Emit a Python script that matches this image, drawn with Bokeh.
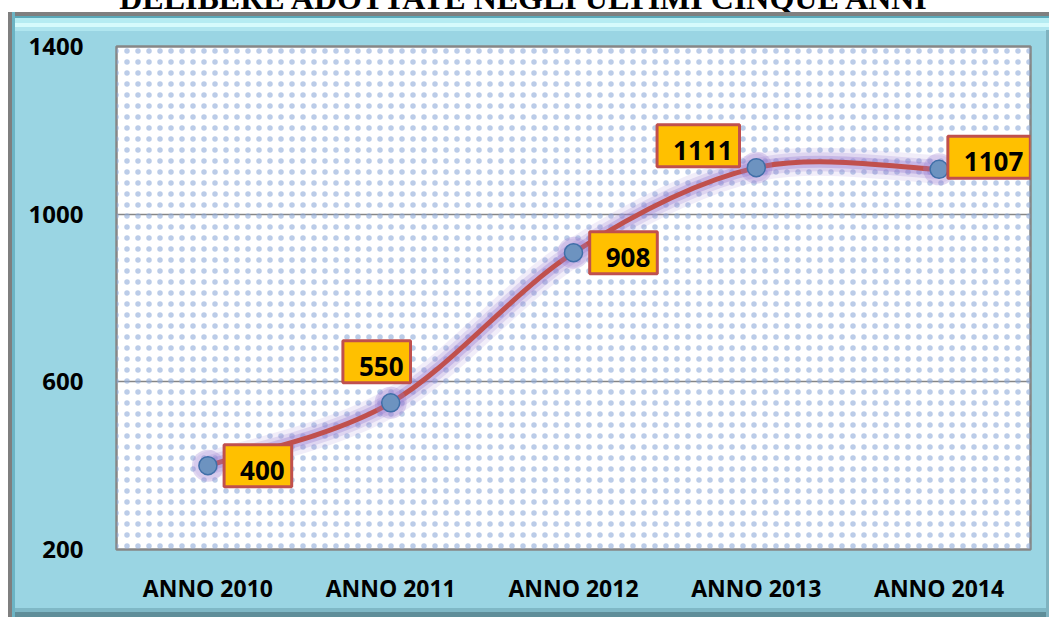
from bokeh.plotting import figure
from bokeh.models import BoxAnnotation, Label, FixedTicker, Range1d, Div
from bokeh.layouts import column
from bokeh.embed import file_html
from bokeh.resources import INLINE

# ---- data ----
years = ["ANNO 2010", "ANNO 2011", "ANNO 2012", "ANNO 2013", "ANNO 2014"]
values = [400, 550, 908, 1111, 1107]
y_ticks = [200, 600, 1000, 1400]
title_text = "DELIBERE ADOTTATE NEGLI ULTIMI CINQUE ANNI"

# ---- styles / positions ----
label_offsets = [(50, 0), (-14, 41), (50, 0), (-58, 22), (50, 12)]
BLUE_BG = "#9ad5e3"
LINE_RED = "#c0504d"
GLOW = "#9b7fd1"
W, H_TOTAL, TITLE_H = 1049, 617, 12
H = H_TOTAL - TITLE_H
BL, BT, FW, FH = 116, 46 - TITLE_H, 914, 503
BR, BB = W - BL - FW, H - BT - FH

xs = [i + 0.5 for i in range(len(years))]

# strip holding the (cropped) title, as in the original picture
title_div = Div(
    text=('<div style="position:relative; top:-18px; width:%dpx; text-align:center; '
          'font-family:\'Liberation Serif\'; font-weight:bold; font-size:32px; line-height:32px; '
          'color:black; white-space:nowrap; padding-right:3px;">%s</div>') % (W, title_text),
    width=W, height=TITLE_H,
    styles={"overflow": "hidden", "background": "white", "margin": "0px", "padding": "0px"})

p = figure(width=W, height=H, x_range=Range1d(0, len(years)), y_range=Range1d(200, 1400),
           output_backend="svg", toolbar_location=None,
           min_border_left=BL, min_border_right=BR, min_border_top=BT, min_border_bottom=BB)

p.border_fill_alpha = 0
p.styles = {
    "background": (
        "linear-gradient(#ffffff, #ffffff) 0px 0px / 8px 100% no-repeat, "
        "linear-gradient(to right, #7f7f7f 0px, #7f7f7f 4px, #6cb4c4 4px, #6cb4c4 7px, rgba(0,0,0,0) 7px) 8px 0px / 100% 100% no-repeat, "
        "linear-gradient(to left, #7fb3c0 0px, #7fb3c0 3px, rgba(0,0,0,0) 3px) 0px 18px / 100% 100% no-repeat, "
        "linear-gradient(to top, #5f8e99 0px, #5f8e99 5px, #7fb8c6 5px, #7fb8c6 9px, rgba(0,0,0,0) 9px), "
        "linear-gradient(to bottom, #7f7f7f 0px, #7f7f7f 4px, #5aa8b8 4px, #5aa8b8 6px, "
        "#b5ecf2 6px, #b5ecf2 11px, #d6fbfc 11px, #d6fbfc 15px, #b0e6ef 15px, #b0e6ef 19px, " + BLUE_BG + " 19px)"
    )
}
p.background_fill_color = "white"
p.outline_line_color = "#868686"
p.outline_line_width = 2.5

# dotted pattern inside the plot area
p.add_layout(BoxAnnotation(fill_alpha=0, line_alpha=0, hatch_pattern=".", hatch_color="#8eaad8",
                           hatch_scale=11, hatch_weight=1, hatch_alpha=0.6, level="underlay"))

# axes
p.yaxis.ticker = FixedTicker(ticks=y_ticks)
p.ygrid.ticker = FixedTicker(ticks=y_ticks)
p.ygrid.grid_line_color = "#868686"
p.ygrid.grid_line_width = 1.5
p.xgrid.grid_line_color = None
p.yaxis.axis_line_color = None
p.yaxis.major_tick_line_color = None
p.yaxis.minor_tick_line_color = None
p.yaxis.major_label_standoff = 27
p.yaxis.major_label_text_font = "Open Sans"
p.yaxis.major_label_text_font_style = "bold"
p.yaxis.major_label_text_font_size = "24px"
p.yaxis.major_label_text_color = "black"

p.xaxis.ticker = FixedTicker(ticks=xs)
p.xaxis.major_label_overrides = {x: s for x, s in zip(xs, years)}
p.xaxis.axis_line_color = None
p.xaxis.major_tick_line_color = None
p.xaxis.minor_tick_line_color = None
p.xaxis.major_label_standoff = 16
p.xaxis.major_label_text_font = "Open Sans"
p.xaxis.major_label_text_font_style = "bold"
p.xaxis.major_label_text_font_size = "23px"
p.xaxis.major_label_text_color = "black"

# smoothed line (Bezier segments through the data points)
pts = list(zip(xs, values))
n = len(pts)
seg = dict(x0=[], y0=[], x1=[], y1=[], cx0=[], cy0=[], cx1=[], cy1=[])
for i in range(n - 1):
    pm, p0, p1, p2 = pts[max(i - 1, 0)], pts[i], pts[i + 1], pts[min(i + 2, n - 1)]
    seg["x0"].append(p0[0]); seg["y0"].append(p0[1])
    seg["x1"].append(p1[0]); seg["y1"].append(p1[1])
    seg["cx0"].append(p0[0] + (p1[0] - pm[0]) / 6); seg["cy0"].append(p0[1] + (p1[1] - pm[1]) / 6)
    seg["cx1"].append(p1[0] - (p2[0] - p0[0]) / 6); seg["cy1"].append(p1[1] - (p2[1] - p0[1]) / 6)

for w, a in [(28, 0.14), (19, 0.22), (12, 0.35)]:
    p.bezier(line_color=GLOW, line_width=w, line_alpha=a, line_cap="round", **seg)
p.bezier(line_color=LINE_RED, line_width=5, line_cap="round", **seg)

# markers
p.scatter(xs, values, size=32, fill_color=GLOW, fill_alpha=0.3, line_alpha=0)
p.scatter(xs, values, size=18, fill_color="#6d93c0", line_color="#3f6fa8", line_width=1.5)

# data labels
for x, v, (dx, dy) in zip(xs, values, label_offsets):
    glow = Label(x=x, y=v, x_offset=dx, y_offset=dy, text=str(v), text_alpha=0,
                 text_align="center", text_baseline="middle",
                 text_font="Open Sans", text_font_style="bold", text_font_size="26px",
                 background_fill_color=GLOW, background_fill_alpha=0.35, padding=(23, 14, 23, 14))
    p.add_layout(glow)
    lab = Label(x=x, y=v, x_offset=dx, y_offset=dy, text=str(v), text_color="black",
                text_align="center", text_baseline="middle",
                text_font="Open Sans", text_font_style="bold", text_font_size="26px",
                background_fill_color="#ffc000", border_line_color=LINE_RED,
                border_line_width=3, padding=(16, 7, 16, 7))
    p.add_layout(lab)

layout = column(title_div, p, spacing=0)

open("out.html", "w").write(file_html(layout, INLINE))
